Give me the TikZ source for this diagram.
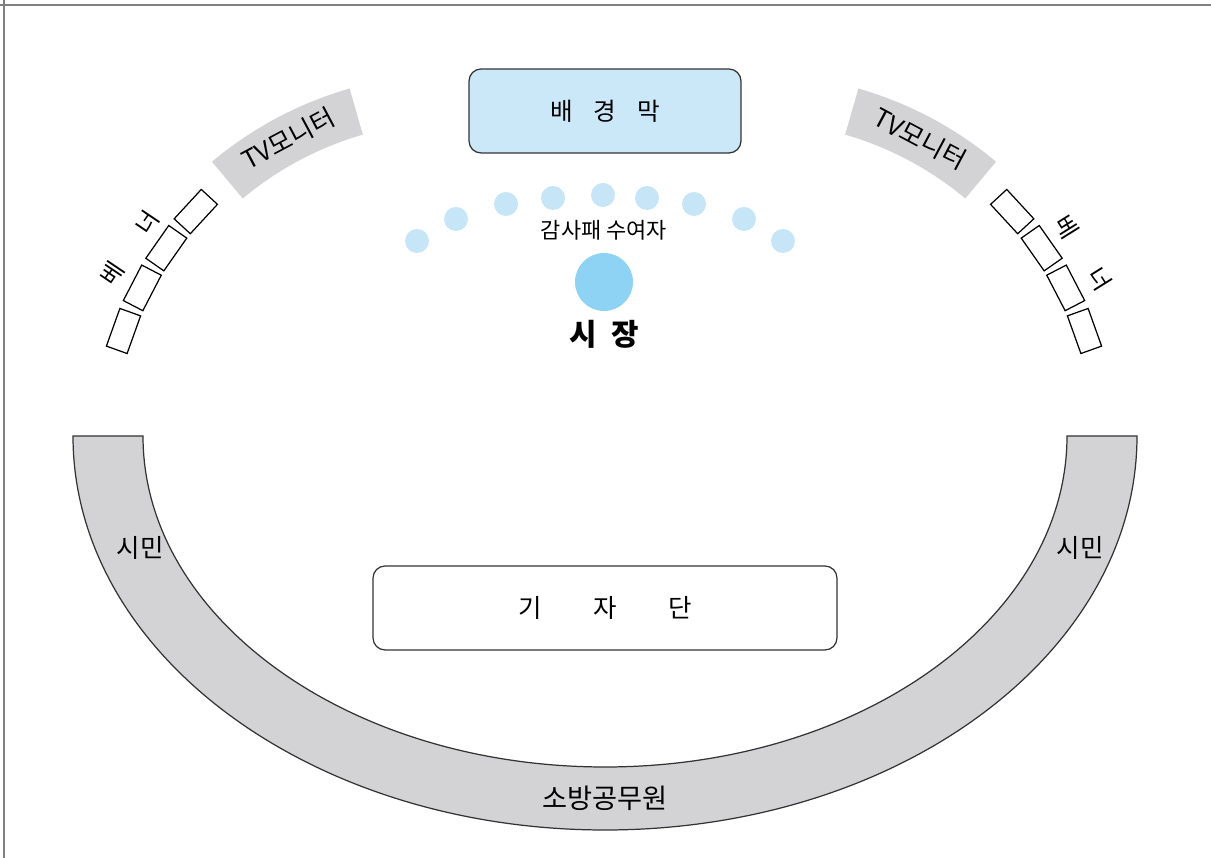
\documentclass[tikz,border=0pt]{standalone}
\usepackage{fontspec}
\setmainfont{Noto Sans CJK KR}
\usepackage{tikz}
\usetikzlibrary{positioning}
\usetikzlibrary{calc}
\definecolor{backblue}{HTML}{CBE8F8}
\definecolor{seatblue}{HTML}{C6E5F6}
\definecolor{mayorblue}{HTML}{8FD3F4}
\definecolor{bandgray}{HTML}{D3D3D5}
\definecolor{edgegray}{HTML}{333333}
\tikzstyle{stage} = [draw=edgegray, line width=0.7pt, rounded corners=0.24cm, minimum height=1.68cm]
\tikzstyle{seat} = [circle, fill=seatblue, minimum size=0.48cm, inner sep=0pt]
\tikzstyle{mayor} = [circle, fill=mayorblue, minimum size=1.16cm, inner sep=0pt]
\tikzstyle{bannerbox} = [draw=black, line width=0.7pt, fill=white, rectangle, minimum width=0.8cm, minimum height=0.44cm, inner sep=0pt]
\tikzstyle{tvband} = [fill=bandgray]
\tikzstyle{crowd} = [fill=bandgray, draw=edgegray, line width=0.7pt]
\tikzstyle{bandtext} = [font=\fontsize{14.5}{16}\selectfont]
\tikzstyle{coord} = [coordinate]

\begin{document}
\begin{tikzpicture}[x=0.02cm, y=0.02cm]
	\useasboundingbox (0,0) rectangle (1211,858);
	\draw [gray, line width=1.1pt] (0,853) -- (1211,853);
	\draw [gray, line width=1.1pt] (4,0) -- (4,858);

	% arc centres
	\node [coord] (cl) at (453,409) {};
	\node [coord] (cr) at (755,409) {};
	\node [coord] (cm) at (605,422) {};

	% backdrop and press
	\node [stage, fill=backblue, minimum width=5.44cm, font=\fontsize{14}{16}\selectfont] (backdrop) at (605,747)
		{배\hspace{0.42cm}경\hspace{0.42cm}막};
	\node [stage, fill=white, minimum width=9.28cm, font=\fontsize{14.5}{16}\selectfont] (press) at (605,250)
		{기\hspace{1.03cm}자\hspace{1.03cm}단};

	% award winners
	\node [seat] (s1) at (417,617) {};
	\node [seat] (s2) at (456,639) {};
	\node [seat] (s3) at (506,654) {};
	\node [seat] (s4) at (553,660) {};
	\node [seat] (s5) at (603,663) {};
	\node [seat] (s6) at (647,660) {};
	\node [seat] (s7) at (694,654) {};
	\node [seat] (s8) at (744,639) {};
	\node [seat] (s9) at (783,617) {};

	\node [mayor] (mayorpos) at (604,576) {};
	\node [above=0.12cm of mayorpos, font=\fontsize{12.5}{14}\selectfont] (winners) {감사패 수여자};
	\node [below=0.05cm of mayorpos, font=\fontsize{17}{19}\selectfont\bfseries] (mayorname) {시\hspace{0.3cm}장};

	% TV monitors
	\fill [tvband] ([shift={(106:375)}]cl) arc [start angle=106, end angle=130, radius=375]
		-- ([shift={(130:327)}]cl) arc [start angle=130, end angle=106, radius=327] -- cycle;
	\fill [tvband] ([shift={(74:375)}]cr) arc [start angle=74, end angle=50, radius=375]
		-- ([shift={(50:327)}]cr) arc [start angle=50, end angle=74, radius=327] -- cycle;
	\node [rotate=28, font=\fontsize{14.5}{16}\selectfont] (tvl) at (288,719) {TV모니터};
	\node [rotate=-28, font=\fontsize{14.5}{16}\selectfont] (tvr) at (920,719) {TV모니터};

	% banners
	\node [bannerbox, rotate=47.3] (bl1) at (195.8,646.4) {};
	\node [bannerbox, rotate=55.0] (bl2) at (166.3,609.8) {};
	\node [bannerbox, rotate=62.6] (bl3) at (142.3,570.1) {};
	\node [bannerbox, rotate=70.3] (bl4) at (123.5,527.0) {};
	\node [bannerbox, rotate=-47.3] (br1) at (1012.2,646.4) {};
	\node [bannerbox, rotate=-55.0] (br2) at (1041.7,609.8) {};
	\node [bannerbox, rotate=-62.6] (br3) at (1065.7,570.1) {};
	\node [bannerbox, rotate=-70.3] (br4) at (1084.5,527.0) {};
	\node [rotate=56, font=\fontsize{13.5}{15}\selectfont] (bannerl) at (130,610) {베\hspace{0.8cm}너};
	\node [rotate=-58, font=\fontsize{13.5}{15}\selectfont] (bannerr) at (1083,605) {베\hspace{0.8cm}너};

	% citizens and firefighters
	\draw [crowd] ([shift={(180:532 and 394)}]cm) arc [start angle=180, end angle=360, x radius=532, y radius=394]
		-- ([shift={(0:462 and 331)}]cm) arc [start angle=360, end angle=180, x radius=462, y radius=331] -- cycle;
	\node [bandtext] (citl) at (140,310) {시민};
	\node [bandtext] (citr) at (1080,310) {시민};
	\node [bandtext, font=\fontsize{15.5}{17}\selectfont] (fire) at (605,60) {소방공무원};
\end{tikzpicture}
\end{document}
